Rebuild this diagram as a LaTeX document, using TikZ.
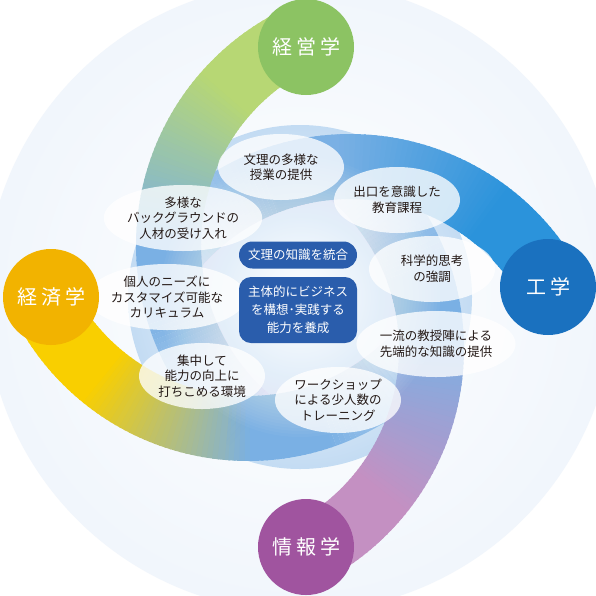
\documentclass[tikz,border=0pt]{standalone}
\usepackage{fontspec}
\newfontfamily\jp{Noto Sans CJK JP}
\usetikzlibrary{shapes.geometric}

\definecolor{discgreen}{HTML}{8CC363}
\definecolor{discblue}{HTML}{1A71BF}
\definecolor{discpurple}{HTML}{A0549F}
\definecolor{discyellow}{HTML}{F2B300}
\definecolor{bandgreen}{HTML}{B7D774}
\definecolor{bandblue}{HTML}{2B93DB}
\definecolor{bandpurple}{HTML}{C490C2}
\definecolor{bandyellow}{HTML}{F9CF00}
\definecolor{ringblue}{HTML}{7AB0E4}
\definecolor{haloblue}{HTML}{D9E7F7}
\definecolor{boxblue}{HTML}{2A5DAC}
\definecolor{inkblack}{HTML}{231815}

\pgfdeclareradialshading{halo}{\pgfpoint{0bp}{0bp}}{color(0bp)=(white); color(33bp)=(haloblue!50); color(40.5bp)=(white); color(42.5bp)=(haloblue); color(49bp)=(white); color(50bp)=(white)}
\pgfdeclareradialshading{core}{\pgfpoint{0bp}{0bp}}{color(0bp)=(white); color(25bp)=(ringblue!45); color(44bp)=(ringblue); color(50bp)=(ringblue)}

\newcommand\swirl[6]{%
  \begin{scope}[shift={(#1,#2)}]
    \foreach \i in {#5,...,#6}{
      \pgfmathsetmacro\op{max(0,min(1,(96-\i)/29))}
      \pgfmathsetmacro\ta{#3-115*\i/96}
      \pgfmathsetmacro\tb{#3-115*(\i+1)/96-(\op==1 ? 0.4 : 0)}
      \pgfmathtruncatemacro\mix{max(0,min(100,(53-\i)*100/34))}
      \fill[#4!\mix!ringblue, fill opacity=\op] (\ta:197) -- (\ta:262) -- (\tb:262) -- (\tb:197) -- cycle;
    }
  \end{scope}}

\begin{document}
\begin{tikzpicture}[x=1pt, y=-1pt,
  disc/.style={circle, minimum size=96pt, inner sep=0pt, text=white, font=\jp\fontsize{20}{24}\selectfont},
  bubble/.style={ellipse, minimum width=126pt, minimum height=66pt, inner sep=0pt, fill=white, fill opacity=0.78, text opacity=1, text=inkblack, align=center, font=\jp\fontsize{12.5}{15.5}\selectfont},
  aim/.style={fill=boxblue, text=white, minimum width=118pt, inner sep=0pt, align=center, font=\jp\fontsize{12.5}{18}\selectfont}]
\useasboundingbox (0,0) rectangle (596,595);
\fill[white] (0,0) rectangle (596,595);
\shade[shading=halo] (300,297) circle (315);
\shade[shading=core] (300,297) circle (172);

\swirl{350}{396}{331}{bandblue}{48}{95}
\swirl{202}{349}{62}{bandpurple}{48}{95}
\swirl{248}{199}{153}{bandyellow}{48}{95}
\swirl{398}{245}{245}{bandgreen}{48}{95}
\swirl{350}{396}{331}{bandblue}{0}{47}
\swirl{202}{349}{62}{bandpurple}{0}{47}
\swirl{248}{199}{153}{bandyellow}{0}{47}
\swirl{398}{245}{245}{bandgreen}{0}{47}

\foreach \r in {140,137,...,41} \fill[white, fill opacity=0.035] (300,297) circle (\r);

\node[bubble] (bunri) at (281,167) {文理の多様な\\授業の提供};
\node[bubble] (deguchi) at (397,200) {出口を意識した\\教育課程};
\node[bubble] (tayou) at (183,218) {多様な\\バックグラウンドの\\人材の受け入れ};
\node[bubble] (kagaku) at (432,269) {科学的思考\\の強調};
\node[bubble] (kojin) at (167,297) {個人のニーズに\\カスタマイズ可能な\\カリキュラム};
\node[bubble] (shuchu) at (202,376) {集中して\\能力の向上に\\打ちこめる環境};
\node[bubble] (work) at (338,400) {ワークショップ\\による少人数の\\トレーニング};
\node[bubble] (ichiryu) at (436,344) {一流の教授陣による\\先端的な知識の提供};

\node[aim, minimum height=27pt, rounded corners=13.5pt] (tougou) at (298,255) {文理の知識を統合};
\node[aim, minimum height=66pt, rounded corners=12pt] (shutai) at (298,310) {主体的にビジネス\\を構想･実践する\\能力を養成};

\node[disc, fill=discgreen] (keiei) at (306,47) {経\kern4pt営\kern4pt学};
\node[disc, fill=discblue] (kougaku) at (548,287) {工\kern4pt学};
\node[disc, fill=discpurple] (jouhou) at (306,547) {情\kern4pt報\kern4pt学};
\node[disc, fill=discyellow] (keizai) at (51,297) {経\kern4pt済\kern4pt学};
\end{tikzpicture}
\end{document}
